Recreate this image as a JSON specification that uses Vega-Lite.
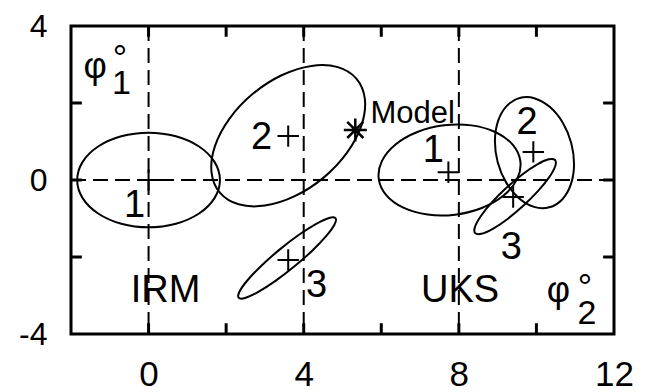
{
  "$schema": "https://vega.github.io/schema/vega-lite/v6.json",
  "width": 543,
  "height": 308,
  "autosize": "none",
  "padding": {"left": 71, "top": 26, "right": 33, "bottom": 58},
  "background": "white",
  "config": {
    "view": {"stroke": "black", "strokeWidth": 3},
    "axis": {"domain": false, "grid": false, "title": null, "ticks": false, "labelColor": "black", "labelFont": "Liberation Sans", "labelFlush": false, "labelOverlap": false}
  },
  "datasets": {
    "ellipses": [
      {"e": "IRM1", "i": 0, "x": 1.84, "y": 0},
      {"e": "IRM1", "i": 1, "x": 1.70, "y": 0.471},
      {"e": "IRM1", "i": 2, "x": 1.301, "y": 0.870},
      {"e": "IRM1", "i": 3, "x": 0.704, "y": 1.136},
      {"e": "IRM1", "i": 4, "x": 0, "y": 1.23},
      {"e": "IRM1", "i": 5, "x": -0.704, "y": 1.136},
      {"e": "IRM1", "i": 6, "x": -1.301, "y": 0.870},
      {"e": "IRM1", "i": 7, "x": -1.70, "y": 0.471},
      {"e": "IRM1", "i": 8, "x": -1.84, "y": 0},
      {"e": "IRM1", "i": 9, "x": -1.70, "y": -0.471},
      {"e": "IRM1", "i": 10, "x": -1.301, "y": -0.870},
      {"e": "IRM1", "i": 11, "x": -0.704, "y": -1.136},
      {"e": "IRM1", "i": 12, "x": 0, "y": -1.23},
      {"e": "IRM1", "i": 13, "x": 0.704, "y": -1.136},
      {"e": "IRM1", "i": 14, "x": 1.301, "y": -0.870},
      {"e": "IRM1", "i": 15, "x": 1.70, "y": -0.471},
      {"e": "IRM2", "i": 0, "x": 5.362, "y": 2.628},
      {"e": "IRM2", "i": 1, "x": 4.879, "y": 2.932},
      {"e": "IRM2", "i": 2, "x": 4.201, "y": 2.964},
      {"e": "IRM2", "i": 3, "x": 3.431, "y": 2.721},
      {"e": "IRM2", "i": 4, "x": 2.687, "y": 2.238},
      {"e": "IRM2", "i": 5, "x": 2.083, "y": 1.589},
      {"e": "IRM2", "i": 6, "x": 1.709, "y": 0.874},
      {"e": "IRM2", "i": 7, "x": 1.623, "y": 0.200},
      {"e": "IRM2", "i": 8, "x": 1.838, "y": -0.328},
      {"e": "IRM2", "i": 9, "x": 2.321, "y": -0.632},
      {"e": "IRM2", "i": 10, "x": 2.999, "y": -0.664},
      {"e": "IRM2", "i": 11, "x": 3.769, "y": -0.421},
      {"e": "IRM2", "i": 12, "x": 4.513, "y": 0.062},
      {"e": "IRM2", "i": 13, "x": 5.117, "y": 0.711},
      {"e": "IRM2", "i": 14, "x": 5.491, "y": 1.426},
      {"e": "IRM2", "i": 15, "x": 5.577, "y": 2.100},
      {"e": "IRM3", "i": 0, "x": 4.818, "y": -0.992},
      {"e": "IRM3", "i": 1, "x": 4.652, "y": -0.985},
      {"e": "IRM3", "i": 2, "x": 4.322, "y": -1.137},
      {"e": "IRM3", "i": 3, "x": 3.877, "y": -1.423},
      {"e": "IRM3", "i": 4, "x": 3.385, "y": -1.802},
      {"e": "IRM3", "i": 5, "x": 2.922, "y": -2.214},
      {"e": "IRM3", "i": 6, "x": 2.557, "y": -2.597},
      {"e": "IRM3", "i": 7, "x": 2.346, "y": -2.894},
      {"e": "IRM3", "i": 8, "x": 2.322, "y": -3.058},
      {"e": "IRM3", "i": 9, "x": 2.488, "y": -3.065},
      {"e": "IRM3", "i": 10, "x": 2.818, "y": -2.913},
      {"e": "IRM3", "i": 11, "x": 3.263, "y": -2.627},
      {"e": "IRM3", "i": 12, "x": 3.755, "y": -2.248},
      {"e": "IRM3", "i": 13, "x": 4.219, "y": -1.836},
      {"e": "IRM3", "i": 14, "x": 4.583, "y": -1.453},
      {"e": "IRM3", "i": 15, "x": 4.794, "y": -1.156},
      {"e": "UKS1", "i": 0, "x": 9.586, "y": 0.484},
      {"e": "UKS1", "i": 1, "x": 9.393, "y": 0.912},
      {"e": "UKS1", "i": 2, "x": 8.950, "y": 1.240},
      {"e": "UKS1", "i": 3, "x": 8.327, "y": 1.419},
      {"e": "UKS1", "i": 4, "x": 7.617, "y": 1.421},
      {"e": "UKS1", "i": 5, "x": 6.929, "y": 1.247},
      {"e": "UKS1", "i": 6, "x": 6.368, "y": 0.923},
      {"e": "UKS1", "i": 7, "x": 6.018, "y": 0.497},
      {"e": "UKS1", "i": 8, "x": 5.934, "y": 0.036},
      {"e": "UKS1", "i": 9, "x": 6.127, "y": -0.392},
      {"e": "UKS1", "i": 10, "x": 6.570, "y": -0.720},
      {"e": "UKS1", "i": 11, "x": 7.193, "y": -0.899},
      {"e": "UKS1", "i": 12, "x": 7.903, "y": -0.901},
      {"e": "UKS1", "i": 13, "x": 8.591, "y": -0.727},
      {"e": "UKS1", "i": 14, "x": 9.152, "y": -0.403},
      {"e": "UKS1", "i": 15, "x": 9.502, "y": 0.023},
      {"e": "UKS2", "i": 0, "x": 9.570, "y": 2.130},
      {"e": "UKS2", "i": 1, "x": 9.236, "y": 1.925},
      {"e": "UKS2", "i": 2, "x": 9.012, "y": 1.535},
      {"e": "UKS2", "i": 3, "x": 8.930, "y": 1.019},
      {"e": "UKS2", "i": 4, "x": 9.003, "y": 0.456},
      {"e": "UKS2", "i": 5, "x": 9.221, "y": -0.068},
      {"e": "UKS2", "i": 6, "x": 9.550, "y": -0.473},
      {"e": "UKS2", "i": 7, "x": 9.939, "y": -0.699},
      {"e": "UKS2", "i": 8, "x": 10.330, "y": -0.710},
      {"e": "UKS2", "i": 9, "x": 10.664, "y": -0.505},
      {"e": "UKS2", "i": 10, "x": 10.888, "y": -0.115},
      {"e": "UKS2", "i": 11, "x": 10.970, "y": 0.401},
      {"e": "UKS2", "i": 12, "x": 10.897, "y": 0.964},
      {"e": "UKS2", "i": 13, "x": 10.679, "y": 1.488},
      {"e": "UKS2", "i": 14, "x": 10.350, "y": 1.893},
      {"e": "UKS2", "i": 15, "x": 9.961, "y": 2.119},
      {"e": "UKS3", "i": 0, "x": 10.479, "y": 0.520},
      {"e": "UKS3", "i": 1, "x": 10.318, "y": 0.537},
      {"e": "UKS3", "i": 2, "x": 10.024, "y": 0.408},
      {"e": "UKS3", "i": 3, "x": 9.643, "y": 0.151},
      {"e": "UKS3", "i": 4, "x": 9.233, "y": -0.195},
      {"e": "UKS3", "i": 5, "x": 8.856, "y": -0.576},
      {"e": "UKS3", "i": 6, "x": 8.569, "y": -0.935},
      {"e": "UKS3", "i": 7, "x": 8.416, "y": -1.217},
      {"e": "UKS3", "i": 8, "x": 8.421, "y": -1.380},
      {"e": "UKS3", "i": 9, "x": 8.583, "y": -1.397},
      {"e": "UKS3", "i": 10, "x": 8.876, "y": -1.268},
      {"e": "UKS3", "i": 11, "x": 9.257, "y": -1.011},
      {"e": "UKS3", "i": 12, "x": 9.667, "y": -0.665},
      {"e": "UKS3", "i": 13, "x": 10.044, "y": -0.284},
      {"e": "UKS3", "i": 14, "x": 10.331, "y": 0.075},
      {"e": "UKS3", "i": 15, "x": 10.484, "y": 0.357}
    ],
    "centers": [
      {"e": "IRM1", "x": 0, "y": 0},
      {"e": "IRM2", "x": 3.6, "y": 1.14},
      {"e": "IRM3", "x": 3.6, "y": -2.08},
      {"e": "UKS1", "x": 7.73, "y": 0.2},
      {"e": "UKS2", "x": 9.92, "y": 0.73},
      {"e": "UKS3", "x": 9.4, "y": -0.44}
    ],
    "model": [{"label": "Model", "x": 5.33, "y": 1.30, "tx": 5.72, "ty": 1.72}],
    "labels": [
      {"text": "1", "x": -0.36, "y": -0.68},
      {"text": "2", "x": 2.91, "y": 1.09},
      {"text": "3", "x": 4.33, "y": -2.75},
      {"text": "IRM", "x": 0.44, "y": -2.88},
      {"text": "UKS", "x": 8.03, "y": -2.88},
      {"text": "1", "x": 7.34, "y": 0.75},
      {"text": "2", "x": 9.76, "y": 1.48},
      {"text": "3", "x": 9.35, "y": -1.77}
    ],
    "phi": [
      {"text": "φ", "x": -1.38, "y": 2.94},
      {"text": "φ", "x": 10.57, "y": -2.88}
    ],
    "sub": [
      {"text": "1", "x": -0.70, "y": 2.49},
      {"text": "2", "x": 11.30, "y": -3.48}
    ],
    "deg": [
      {"text": "°", "x": -0.74, "y": 3.12},
      {"text": "°", "x": 11.25, "y": -2.83}
    ],
    "vlines": [{"x": 0}, {"x": 4}, {"x": 8}],
    "hlines": [{"y": 0}],
    "tickmarks": [
      {"x": 0, "x2": 0, "y": -4, "y2": -3.72},
      {"x": 2, "x2": 2, "y": -4, "y2": -3.72},
      {"x": 4, "x2": 4, "y": -4, "y2": -3.72},
      {"x": 6, "x2": 6, "y": -4, "y2": -3.72},
      {"x": 8, "x2": 8, "y": -4, "y2": -3.72},
      {"x": 10, "x2": 10, "y": -4, "y2": -3.72},
      {"x": 0, "x2": 0, "y": 4, "y2": 3.72},
      {"x": 2, "x2": 2, "y": 4, "y2": 3.72},
      {"x": 4, "x2": 4, "y": 4, "y2": 3.72},
      {"x": 6, "x2": 6, "y": 4, "y2": 3.72},
      {"x": 8, "x2": 8, "y": 4, "y2": 3.72},
      {"x": 10, "x2": 10, "y": 4, "y2": 3.72},
      {"x": -2, "x2": -1.72, "y": -2, "y2": -2},
      {"x": -2, "x2": -1.72, "y": 0, "y2": 0},
      {"x": -2, "x2": -1.72, "y": 2, "y2": 2},
      {"x": 12, "x2": 11.72, "y": -2, "y2": -2},
      {"x": 12, "x2": 11.72, "y": 0, "y2": 0},
      {"x": 12, "x2": 11.72, "y": 2, "y2": 2}
    ]
  },
  "layer": [
    {
      "data": {"name": "vlines"},
      "mark": {"type": "rule", "color": "black", "strokeWidth": 2, "strokeDash": [15, 7]},
      "encoding": {
        "x": {"field": "x", "type": "quantitative", "scale": {"domain": [-2, 12], "nice": false, "zero": false},
          "axis": {"orient": "bottom", "values": [0, 4, 8, 12], "labelExpr": "toString(datum.value)", "labelFontSize": 35, "labelPadding": 23}}
      }
    },
    {
      "data": {"name": "hlines"},
      "mark": {"type": "rule", "color": "black", "strokeWidth": 2, "strokeDash": [15, 7]},
      "encoding": {
        "y": {"field": "y", "type": "quantitative", "scale": {"domain": [-4, 4], "nice": false, "zero": false},
          "axis": {"orient": "left", "values": [-4, 0, 4], "labelExpr": "toString(datum.value)", "labelFontSize": 32, "labelPadding": 24, "labelBaseline": "middle"}}
      }
    },
    {
      "data": {"name": "tickmarks"},
      "mark": {"type": "rule", "color": "black", "strokeWidth": 3},
      "encoding": {
        "x": {"field": "x", "type": "quantitative"},
        "x2": {"field": "x2"},
        "y": {"field": "y", "type": "quantitative"},
        "y2": {"field": "y2"}
      }
    },
    {
      "data": {"name": "ellipses"},
      "mark": {"type": "line", "color": "black", "strokeWidth": 2, "interpolate": "cardinal-closed"},
      "encoding": {
        "x": {"field": "x", "type": "quantitative"},
        "y": {"field": "y", "type": "quantitative"},
        "detail": {"field": "e"},
        "order": {"field": "i", "type": "quantitative"}
      }
    },
    {
      "data": {"name": "centers"},
      "mark": {"type": "point", "shape": "M-1,0L1,0M0,-1L0,1", "size": 460, "filled": false, "stroke": "black", "strokeWidth": 2, "opacity": 1},
      "encoding": {
        "x": {"field": "x", "type": "quantitative"},
        "y": {"field": "y", "type": "quantitative"}
      }
    },
    {
      "data": {"name": "model"},
      "mark": {"type": "point", "shape": "M-1,0L1,0M0,-1L0,1M-0.7,-0.7L0.7,0.7M-0.7,0.7L0.7,-0.7", "size": 530, "filled": false, "stroke": "black", "strokeWidth": 2.5, "opacity": 1},
      "encoding": {
        "x": {"field": "x", "type": "quantitative"},
        "y": {"field": "y", "type": "quantitative"}
      }
    },
    {
      "data": {"name": "model"},
      "mark": {"type": "text", "font": "Liberation Sans", "fontSize": 31, "align": "left", "baseline": "middle", "color": "black"},
      "encoding": {
        "x": {"field": "tx", "type": "quantitative"},
        "y": {"field": "ty", "type": "quantitative"},
        "text": {"field": "label"}
      }
    },
    {
      "data": {"name": "labels"},
      "mark": {"type": "text", "font": "Liberation Sans", "fontSize": 38, "align": "center", "baseline": "middle", "color": "black"},
      "encoding": {
        "x": {"field": "x", "type": "quantitative"},
        "y": {"field": "y", "type": "quantitative"},
        "text": {"field": "text"}
      }
    },
    {
      "data": {"name": "phi"},
      "mark": {"type": "text", "font": "Liberation Sans", "fontSize": 36, "align": "center", "baseline": "middle", "color": "black"},
      "encoding": {
        "x": {"field": "x", "type": "quantitative"},
        "y": {"field": "y", "type": "quantitative"},
        "text": {"field": "text"}
      }
    },
    {
      "data": {"name": "sub"},
      "mark": {"type": "text", "font": "Liberation Sans", "fontSize": 34, "align": "center", "baseline": "middle", "color": "black"},
      "encoding": {
        "x": {"field": "x", "type": "quantitative"},
        "y": {"field": "y", "type": "quantitative"},
        "text": {"field": "text"}
      }
    },
    {
      "data": {"name": "deg"},
      "mark": {"type": "text", "font": "Liberation Sans", "fontSize": 36, "align": "center", "baseline": "middle", "color": "black"},
      "encoding": {
        "x": {"field": "x", "type": "quantitative"},
        "y": {"field": "y", "type": "quantitative"},
        "text": {"field": "text"}
      }
    }
  ]
}
